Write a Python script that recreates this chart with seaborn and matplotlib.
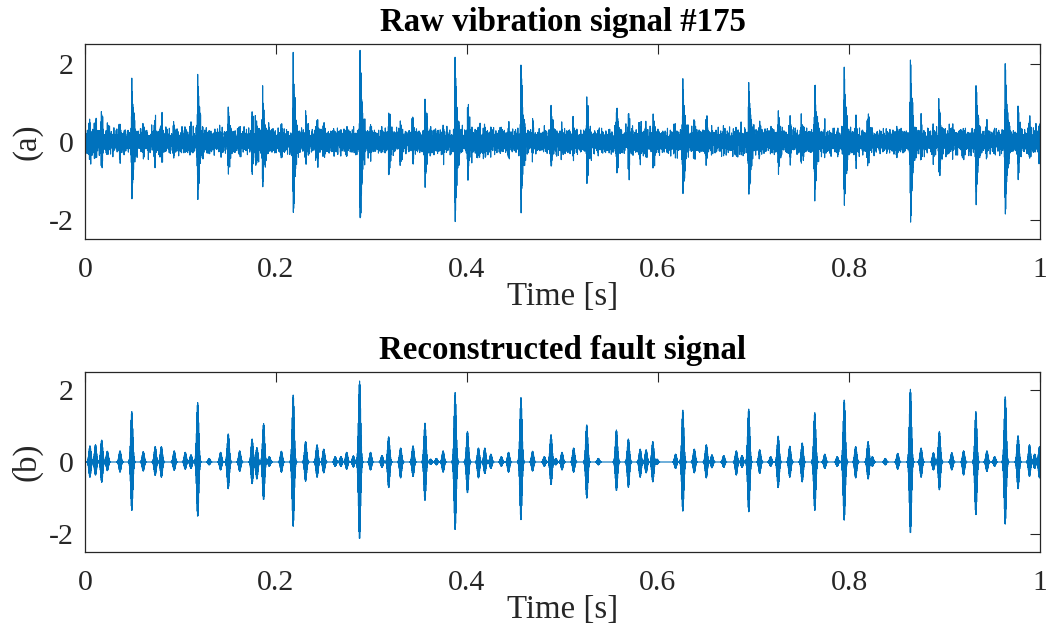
import numpy as np
import pandas as pd
import matplotlib
matplotlib.use("Agg")
import matplotlib.pyplot as plt
import seaborn as sns

# ---------------- values ----------------
# Reconstructed fault signal (b): burst centre times [s] and +/- peak values
burst_times = [0.0052, 0.011, 0.0175, 0.0234, 0.0367, 0.049, 0.061, 0.0735, 0.080, 0.0934,
               0.105, 0.111, 0.118, 0.130, 0.142, 0.150, 0.162, 0.175, 0.180, 0.187,
               0.193, 0.2057, 0.218, 0.231, 0.243, 0.250, 0.262, 0.268, 0.274, 0.281,
               0.2875, 0.299, 0.311, 0.318, 0.3305, 0.3435, 0.356, 0.362, 0.368, 0.375,
               0.3876, 0.4005, 0.412, 0.4187, 0.425, 0.436, 0.4435, 0.4565, 0.4687, 0.481,
               0.488, 0.493, 0.4995, 0.5117, 0.5254, 0.5376, 0.5565, 0.569, 0.5813, 0.5876,
               0.5946, 0.599, 0.6184, 0.626, 0.638, 0.6506, 0.6565, 0.6688, 0.682, 0.688,
               0.695, 0.7065, 0.718, 0.7258, 0.738, 0.751, 0.7642, 0.7747, 0.7877, 0.795,
               0.807, 0.820, 0.8245, 0.838, 0.851, 0.8643, 0.8755, 0.8884, 0.8947, 0.9077,
               0.920, 0.9328, 0.9444, 0.9525, 0.9636, 0.977, 0.989, 0.9944, 0.9995]
burst_pos = [0.45, 0.48, 0.61, 0.30, 0.31, 1.40, 0.29, 0.43, 0.43, 0.31,
             0.27, 0.20, 1.65, 0.10, 0.27, 0.78, 0.31, 0.64, 0.40, 1.07,
             0.15, 0.30, 1.86, 0.57, 0.48, 0.36, 0.15, 0.15, 0.27, 0.17,
             2.25, 0.27, 0.18, 0.70, 0.39, 0.45, 1.08, 0.08, 0.10, 0.31,
             1.93, 0.85, 0.39, 0.39, 0.22, 0.15, 0.27, 1.79, 0.30, 0.15,
             0.76, 0.10, 0.27, 0.39, 1.03, 0.10, 0.89, 0.64, 0.36, 0.34,
             0.57, 0.08, 0.22, 1.44, 0.36, 0.48, 0.20, 0.18, 0.31, 0.18,
             1.47, 0.34, 0.15, 0.72, 0.44, 0.53, 1.37, 0.22, 0.15, 1.72,
             0.43, 0.57, 0.15, 0.10, 0.24, 2.02, 0.39, 0.26, 0.85, 0.26,
             0.31, 1.40, 0.31, 0.15, 1.81, 0.73, 0.48, 0.22, 0.43]
burst_neg = [-0.42, -0.36, -0.56, -0.24, -0.28, -1.34, -0.25, -0.37, -0.42, -0.23,
             -0.20, -0.18, -1.50, -0.08, -0.22, -0.74, -0.26, -0.60, -0.47, -1.04,
             -0.12, -0.28, -1.78, -0.53, -0.42, -0.30, -0.12, -0.12, -0.20, -0.14,
             -2.12, -0.22, -0.15, -0.71, -0.44, -0.40, -1.06, -0.07, -0.08, -0.28,
             -1.87, -0.85, -0.44, -0.32, -0.18, -0.12, -0.28, -1.60, -0.25, -0.12,
             -0.62, -0.08, -0.22, -0.28, -1.00, -0.08, -0.79, -0.70, -0.42, -0.30,
             -0.55, -0.07, -0.18, -1.36, -0.30, -0.44, -0.16, -0.15, -0.36, -0.15,
             -1.38, -0.32, -0.12, -0.71, -0.42, -0.55, -1.34, -0.18, -0.12, -1.61,
             -0.44, -0.47, -0.12, -0.08, -0.20, -1.96, -0.42, -0.22, -0.77, -0.22,
             -0.36, -1.46, -0.26, -0.12, -1.72, -0.74, -0.40, -0.18, -0.44]

# Raw vibration signal (a): main impacts, times [s] and +/- peak values
impact_times = [0.049, 0.118, 0.150, 0.175, 0.186, 0.218, 0.231, 0.288, 0.318, 0.356,
                0.3875, 0.4005, 0.4565, 0.488, 0.5254, 0.5565, 0.569, 0.5946, 0.626, 0.695,
                0.726, 0.750, 0.764, 0.795, 0.8643, 0.894, 0.933, 0.9636, 0.977]
impact_pos = [1.54, 1.78, 0.85, 0.69, 1.15, 2.00, 0.61, 2.42, 0.76, 1.17,
              2.09, 0.92, 1.96, 0.82, 1.09, 0.98, 0.69, 0.61, 1.57, 1.60,
              0.76, 0.64, 1.49, 1.85, 2.19, 0.94, 1.51, 1.94, 0.76]
impact_neg = [-1.46, -1.59, -0.78, -0.69, -1.12, -1.89, -0.55, -2.24, -0.76, -1.14,
              -1.99, -0.87, -1.66, -0.65, -1.10, -0.81, -0.76, -0.65, -1.48, -1.50,
              -0.76, -0.56, -1.43, -1.71, -2.10, -0.82, -1.57, -1.84, -0.82]
noise_std = 0.14          # background band of the raw signal (about +/-0.3)

x_ticks = [0, 0.2, 0.4, 0.6, 0.8, 1]
x_tick_labels = ["0", "0.2", "0.4", "0.6", "0.8", "1"]
y_ticks = [-2, 0, 2]
y_tick_labels = ["-2", "0", "2"]
titles = ["Raw vibration signal #175", "Reconstructed fault signal"]
panel_labels = ["(a)", "(b)"]
x_label = "Time [s]"

# ---------------- waveform synthesis from the read values ----------------
fs = 12000
n_samp = fs + 1
k = np.arange(n_samp)
t = k / fs
carrier = fs / 4.0          # peaks fall exactly on samples
sigma = 0.0011
tau = 0.0022
half = 2 / fs               # half period of the carrier


def split_scale(w, pos, neg):
    return np.where(w >= 0, w * pos, w * abs(neg))


recon = np.zeros_like(t)
for t0, p, n in zip(burst_times, burst_pos, burst_neg):
    d = (k - round(t0 * fs)) / fs
    env = np.exp(-0.5 * (d / sigma) ** 2)
    g = np.exp(-0.5 * (half / sigma) ** 2)
    recon += split_scale(env * np.cos(2 * np.pi * carrier * d), p, n / g)

raw = np.zeros_like(t)
imp = np.array(impact_times)
for t0, p, n in zip(burst_times, burst_pos, burst_neg):
    if np.min(np.abs(imp - t0)) < 0.004:
        continue
    d = (k - round(t0 * fs)) / fs
    env = np.exp(-0.5 * (d / sigma) ** 2)
    raw += split_scale(env * np.cos(2 * np.pi * carrier * d), p, n)
for t0, p, n in zip(impact_times, impact_pos, impact_neg):
    d = (k - round(t0 * fs)) / fs
    env = np.where(d >= 0, np.exp(-np.clip(d, 0, None) / tau),
                   np.exp(np.clip(d, None, 0) / 0.0004))
    g = np.exp(-half / tau)
    raw += split_scale(env * np.cos(2 * np.pi * carrier * d), p, n / g)

# deterministic broadband background (interference of fixed tones)
bg_freqs = [433, 757, 1013, 1597, 2203, 2711, 3307, 3889, 4441, 5003, 1291, 2477]
bg_phase = [0.3, 1.7, 2.9, 0.8, 4.1, 5.3, 2.2, 3.6, 1.1, 4.8, 0.5, 3.1]
bg = np.zeros_like(t)
for f, ph in zip(bg_freqs, bg_phase):
    bg += np.sin(2 * np.pi * f * t + ph)
bg = bg / bg.std() * noise_std
raw = raw + bg

df = pd.DataFrame({"t": t, "raw": raw, "recon": recon})

# ---------------- drawing ----------------
sns.set_style("white")
plt.rcParams["font.family"] = ["Liberation Serif", "DejaVu Serif"]
plt.rcParams["axes.unicode_minus"] = False

line_color = "#0072BD"
axis_color = "#262626"
tick_fs = 21.5
label_fs = tick_fs * 1.1

fig = plt.figure(figsize=(10.46, 6.34), dpi=100)
W, H = 1046, 634
ax1 = fig.add_axes([85 / W, 1 - 239 / H, 955 / W, 195 / H])
ax2 = fig.add_axes([85 / W, 1 - 552 / H, 955 / W, 180 / H])

for ax, col, title, lab in zip([ax1, ax2], ["raw", "recon"], titles, panel_labels):
    sns.lineplot(data=df, x="t", y=col, ax=ax, color=line_color, linewidth=0.8,
                 estimator=None, sort=False)
    ax.set_xlim(0, 1)
    ax.set_ylim(-2.5, 2.5)
    ax.set_xticks(x_ticks)
    ax.set_xticklabels(x_tick_labels)
    ax.set_yticks(y_ticks)
    ax.set_yticklabels(y_tick_labels)
    ax.set_xlabel(x_label, fontsize=label_fs, color=axis_color, labelpad=-1)
    ax.set_ylabel(lab, fontsize=label_fs, color=axis_color, labelpad=5)
    ax.set_title(title, fontsize=label_fs, fontweight="bold", color="black", pad=9.5)
    ax.tick_params(direction="in", length=7, width=0.8, colors=axis_color,
                   labelcolor=axis_color, labelsize=tick_fs, top=True, right=True)
    ax.tick_params(axis="x", pad=13)
    ax.tick_params(axis="y", pad=8)
    for s in ax.spines.values():
        s.set_color(axis_color)
        s.set_linewidth(0.9)
        s.set_visible(True)

fig.savefig("out.png", dpi=100)
